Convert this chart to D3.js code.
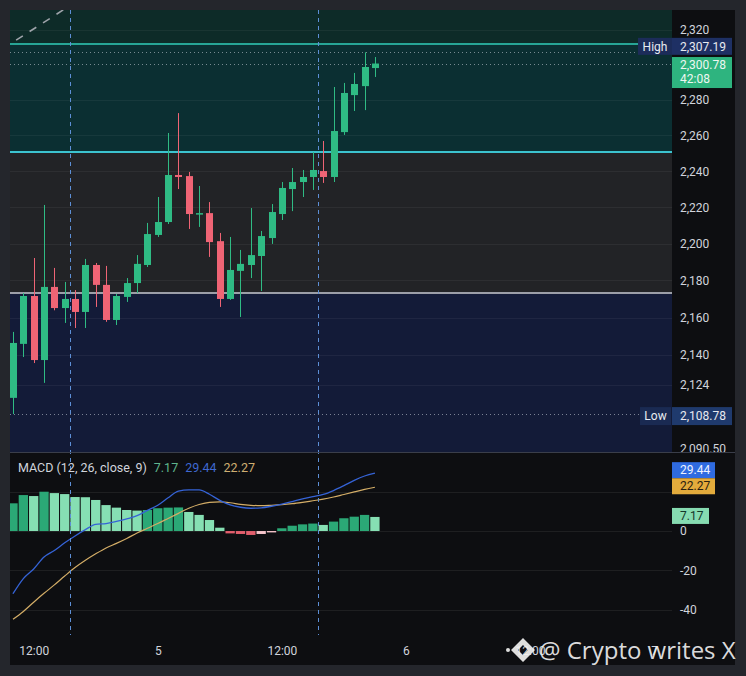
<!DOCTYPE html>
<html>
<meta charset="utf-8">

<!-- Load d3.js -->
<script src="https://d3js.org/d3.v7.min.js"></script>

<style>
    body { margin: 0; background: #24262c; }
    svg text { font-family: Roboto, "Noto Sans", sans-serif; }
</style>

<body>
    <div id="my_chart"></div>
    <script>

        // hourly candles, hour counted from the 4th 00:00
        var hours = [10, 11, 12, 13, 14, 15, 16, 17, 18, 19, 20, 21, 22, 23, 24, 25, 26, 27,
            28, 29, 30, 31, 32, 33, 34, 35, 36, 37, 38, 39, 40, 41, 42, 43, 44, 45];
        var opens = [2117.3, 2145.9, 2171.6, 2137.3, 2176.5, 2165.1, 2170.0, 2163.0, 2188.4, 2177.6, 2158.7, 2171.1,
            2178.6, 2188.4, 2204.8, 2211.9, 2237.9, 2237.3, 2216.3, 2216.8, 2201.4, 2170.0, 2185.2, 2188.4,
            2193.3, 2203.1, 2216.3, 2230.1, 2234.0, 2236.8, 2240.1, 2236.8, 2261.9, 2282.8, 2287.9, 2298.2];
        var highs = [2152.3, 2173.2, 2192.2, 2221.3, 2186.8, 2179.2, 2174.8, 2191.7, 2189.5, 2187.9, 2172.7, 2181.3,
            2193.8, 2211.4, 2225.7, 2261.4, 2272.6, 2239.6, 2231.8, 2222.9, 2205.9, 2203.7, 2196.6, 2219.6,
            2207.0, 2221.8, 2234.0, 2241.8, 2240.7, 2250.7, 2256.9, 2287.4, 2289.7, 2295.4, 2307.19, 2304.5];
        var lows = [2108.78, 2138.9, 2135.7, 2125.2, 2163.9, 2157.1, 2154.4, 2154.4, 2165.7, 2157.7, 2156.0, 2168.4,
            2173.2, 2187.3, 2203.7, 2210.8, 2230.1, 2208.1, 2209.2, 2192.8, 2165.7, 2169.5, 2160.3, 2181.3,
            2174.3, 2199.9, 2213.0, 2217.9, 2225.7, 2229.6, 2233.5, 2234.0, 2260.3, 2273.8, 2274.3, 2293.1];
        var closes = [2146.4, 2171.6, 2137.3, 2176.5, 2165.1, 2170.0, 2163.0, 2188.4, 2177.6, 2158.7, 2171.6, 2178.6,
            2189.0, 2205.3, 2211.9, 2237.9, 2236.8, 2216.3, 2216.8, 2200.9, 2170.0, 2185.7, 2189.0, 2193.8,
            2204.2, 2217.4, 2230.7, 2234.0, 2236.8, 2240.7, 2236.8, 2262.5, 2284.0, 2289.1, 2298.8, 2300.78];

        // MACD (12, 26, close, 9)
        var macdLine = [-31.9, -24.2, -19.3, -13.2, -9.9, -6.0, -2.5, 0.7, 3.4, 3.8, 4.9, 6.2,
            7.8, 10.5, 13.1, 16.9, 20.3, 20.9, 20.9, 18.7, 15.6, 13.3, 12.1, 11.6,
            11.8, 12.6, 13.7, 15.0, 16.3, 17.5, 18.6, 20.6, 23.1, 25.8, 28.0, 29.44];
        var signalLine = [-44.9, -40.9, -36.2, -31.7, -27.4, -22.9, -18.6, -14.9, -11.6, -8.6, -6.3, -3.8,
            -1.0, 1.4, 3.8, 6.4, 9.0, 11.6, 13.5, 14.6, 14.8, 14.4, 13.6, 13.1,
            12.9, 13.1, 13.4, 13.9, 14.6, 15.4, 16.2, 17.3, 18.6, 19.9, 21.2, 22.27];
        var histogram = [14.1, 18.3, 17.8, 20.0, 19.3, 18.8, 17.3, 17.2, 15.8, 13.2, 11.9, 10.7,
            10.4, 10.7, 11.6, 11.9, 12.0, 9.7, 8.2, 5.6, 1.7, -1.2, -1.5, -2.0,
            -1.5, -0.7, 1.4, 2.7, 3.4, 3.8, 3.1, 4.8, 6.5, 7.3, 8.2, 7.17];

        // levels drawn on the chart
        var zoneLevels = [2312.0, 2250.7, 2173.2];
        var dayHigh = 2307.19, dayLow = 2108.78, lastPrice = 2300.78;
        var countdown = "42:08";
        var sessionBreaks = [15.5, 39.5];
        var trendLine = [{ h: 9.0, p: 2309.2 }, { h: 16.5, p: 2338.0 }];

        // axis ticks
        var priceTicks = [2320, 2280, 2260, 2240, 2220, 2200, 2180, 2160, 2140, 2124, 2090.5];
        var priceTickLabels = ["2,320", "2,280", "2,260", "2,240", "2,220", "2,200", "2,180", "2,160", "2,140", "2,124", "2,090.50"];
        var macdTicks = [0, -20, -40];
        var macdGrid = [20, 0, -20, -40];
        var timeTicks = [12, 24, 36, 48, 60, 72];
        var timeLabels = ["12:00", "5", "12:00", "6", "12:00", "7"];

        // layout
        var left = 10, plotRight = 672, axisRight = 735,
            priceTop = 10, priceBottom = 452, macdTop = 453, macdBottom = 635, bottom = 665;

        var green = "#2fbb84", red = "#ef6475";

        var svg = d3.select("#my_chart")
            .append("svg")
            .attr("width", 746)
            .attr("height", 676);

        var defs = svg.append("defs");
        defs.append("clipPath").attr("id", "clipPrice").append("rect")
            .attr("x", left).attr("y", priceTop).attr("width", plotRight - left).attr("height", priceBottom - priceTop);
        defs.append("clipPath").attr("id", "clipMacd").append("rect")
            .attr("x", left).attr("y", macdTop).attr("width", plotRight - left).attr("height", macdBottom - macdTop);
        defs.append("clipPath").attr("id", "clipAxis").append("rect")
            .attr("x", plotRight).attr("y", priceTop).attr("width", axisRight - plotRight).attr("height", priceBottom - priceTop);

        // background + frame
        svg.append("rect").attr("width", 746).attr("height", 676).attr("fill", "#24262c");
        svg.append("rect")
            .attr("x", left).attr("y", priceTop)
            .attr("width", axisRight - left).attr("height", bottom - priceTop)
            .attr("fill", "#0d0e11");

        // scales
        var x = d3.scaleLinear().domain([9.71, 73.73]).range([left, plotRight]);
        var y = d3.scaleLog().domain([2089.0, 2331.6]).range([priceBottom, priceTop]);
        var yM = d3.scaleLinear().domain([-52.9, 39.7]).range([macdBottom, macdTop]);

        var pricePane = svg.append("g").attr("clip-path", "url(#clipPrice)");
        var macdPane = svg.append("g").attr("clip-path", "url(#clipMacd)");

        // coloured zones
        var edges = [y.domain()[1]].concat(zoneLevels).concat([y.domain()[0]]);
        var zoneFill = ["#0d2b28", "#0b2f32", "#222326", "#131b38"];
        pricePane.selectAll(".zone")
            .data(d3.range(edges.length - 1))
            .enter()
            .append("rect")
            .attr("x", left)
            .attr("width", plotRight - left)
            .attr("y", function (i) { return y(edges[i]) })
            .attr("height", function (i) { return y(edges[i + 1]) - y(edges[i]) })
            .attr("fill", function (i) { return zoneFill[i] });

        // grid
        pricePane.selectAll(".grid")
            .data(priceTicks.slice(0, -1))
            .enter()
            .append("line")
            .attr("x1", left).attr("x2", plotRight)
            .attr("y1", function (d) { return Math.round(y(d)) + 0.5 })
            .attr("y2", function (d) { return Math.round(y(d)) + 0.5 })
            .attr("stroke", "rgba(255,255,255,0.05)");
        macdPane.selectAll(".grid")
            .data(macdGrid)
            .enter()
            .append("line")
            .attr("x1", left).attr("x2", plotRight)
            .attr("y1", function (d) { return Math.round(yM(d)) + 0.5 })
            .attr("y2", function (d) { return Math.round(yM(d)) + 0.5 })
            .attr("stroke", "rgba(255,255,255,0.07)");

        // zone lines
        pricePane.append("line")
            .attr("x1", left).attr("x2", 638)
            .attr("y1", y(zoneLevels[0])).attr("y2", y(zoneLevels[0]))
            .attr("stroke", "#27a596").attr("stroke-width", 2);
        pricePane.append("line")
            .attr("x1", left).attr("x2", plotRight)
            .attr("y1", y(zoneLevels[1])).attr("y2", y(zoneLevels[1]))
            .attr("stroke", "#3cc3cf").attr("stroke-width", 2);
        pricePane.append("line")
            .attr("x1", left).attr("x2", plotRight)
            .attr("y1", y(zoneLevels[2])).attr("y2", y(zoneLevels[2]))
            .attr("stroke", "#9c9fa8").attr("stroke-width", 2);

        // high / low / last price dotted lines
        [[dayHigh, 638], [lastPrice, plotRight], [dayLow, 640]].forEach(function (l) {
            pricePane.append("line")
                .attr("x1", left).attr("x2", l[1])
                .attr("y1", Math.round(y(l[0])) + 0.5).attr("y2", Math.round(y(l[0])) + 0.5)
                .attr("stroke", "rgba(210,215,225,0.55)")
                .attr("stroke-dasharray", "1,3");
        });

        // dashed trend line top left
        pricePane.append("line")
            .attr("x1", x(trendLine[0].h)).attr("y1", y(trendLine[0].p))
            .attr("x2", x(trendLine[1].h)).attr("y2", y(trendLine[1].p))
            .attr("stroke", "#9ea3aa").attr("stroke-width", 1.6)
            .attr("stroke-dasharray", "8,8");

        // candles
        var candles = hours.map(function (h, i) {
            return { h: h, o: opens[i], hi: highs[i], lo: lows[i], c: closes[i] };
        });
        var bodyW = 7;
        pricePane.selectAll(".wick")
            .data(candles)
            .enter()
            .append("line")
            .attr("x1", function (d) { return Math.round(x(d.h)) + 0.5 })
            .attr("x2", function (d) { return Math.round(x(d.h)) + 0.5 })
            .attr("y1", function (d) { return y(d.hi) })
            .attr("y2", function (d) { return y(d.lo) })
            .attr("stroke", function (d) { return d.c >= d.o ? green : red });
        pricePane.selectAll(".body")
            .data(candles)
            .enter()
            .append("rect")
            .attr("x", function (d) { return Math.round(x(d.h)) + 0.5 - bodyW / 2 })
            .attr("width", bodyW)
            .attr("y", function (d) { return y(Math.max(d.o, d.c)) })
            .attr("height", function (d) { return Math.max(1.5, Math.abs(y(d.o) - y(d.c))) })
            .attr("fill", function (d) { return d.c >= d.o ? green : red });

        // MACD histogram
        var barW = (x(1) - x(0)) * 0.9;
        macdPane.selectAll(".bar")
            .data(histogram)
            .enter()
            .append("rect")
            .attr("x", function (d, i) { return x(hours[i]) - barW / 2 })
            .attr("width", barW)
            .attr("y", function (d) { return yM(Math.max(0, d)) })
            .attr("height", function (d) { return Math.abs(yM(d) - yM(0)) })
            .attr("fill", function (d, i) {
                var prev = i > 0 ? histogram[i - 1] : -Infinity;
                if (d >= 0) return d > prev ? "#2ba876" : "#86dfb3";
                return d < prev ? "#e25f6d" : "#f6c5cc";
            });

        // MACD + signal lines
        var lineGen = function (vals) {
            return d3.line()
                .x(function (d, i) { return x(hours[i]) })
                .y(function (d) { return yM(d) })
                .curve(d3.curveMonotoneX)(vals);
        };
        macdPane.append("path").attr("d", lineGen(signalLine))
            .attr("fill", "none").attr("stroke", "#d3ad67").attr("stroke-width", 1.2);
        macdPane.append("path").attr("d", lineGen(macdLine))
            .attr("fill", "none").attr("stroke", "#3563d6").attr("stroke-width", 1.3);

        // session break lines
        svg.selectAll(".session")
            .data(sessionBreaks)
            .enter()
            .append("line")
            .attr("x1", function (d) { return Math.round(x(d)) + 0.5 })
            .attr("x2", function (d) { return Math.round(x(d)) + 0.5 })
            .attr("y1", priceTop).attr("y2", macdBottom)
            .attr("stroke", "#5d8fd6").attr("stroke-dasharray", "4,4");

        // pane separator
        svg.append("line")
            .attr("x1", left).attr("x2", axisRight)
            .attr("y1", priceBottom + 0.5).attr("y2", priceBottom + 0.5)
            .attr("stroke", "#3a3e4a");

        // price axis
        var priceAxis = svg.append("g")
            .attr("clip-path", "url(#clipAxis)")
            .append("g")
            .attr("transform", "translate(" + plotRight + ",0)")
            .call(d3.axisRight(y)
                .tickValues(priceTicks)
                .tickFormat(function (d, i) { return priceTickLabels[i] })
                .tickSize(0)
                .tickPadding(8));
        priceAxis.select(".domain").remove();
        priceAxis.selectAll("text").attr("fill", "#d1d4dc").style("font-size", "12px");

        // macd axis
        var macdAxis = svg.append("g")
            .attr("transform", "translate(" + plotRight + ",0)")
            .call(d3.axisRight(yM)
                .tickValues(macdTicks)
                .tickFormat(function (d) { return String(d) })
                .tickSize(0)
                .tickPadding(8));
        macdAxis.select(".domain").remove();
        macdAxis.selectAll("text").attr("fill", "#d1d4dc").style("font-size", "12px");

        // time axis
        var timeAxis = svg.append("g")
            .attr("transform", "translate(0," + macdBottom + ")")
            .call(d3.axisBottom(x)
                .tickValues(timeTicks)
                .tickFormat(function (d, i) { return timeLabels[i] })
                .tickSize(0)
                .tickPadding(11));
        timeAxis.select(".domain").remove();
        timeAxis.selectAll("text").attr("fill", "#d1d4dc").style("font-size", "12px");

        // price labels
        function tag(xl, w, yc, h, bg, txt, color, anchor) {
            svg.append("rect").attr("x", xl).attr("y", yc - h / 2).attr("width", w).attr("height", h).attr("fill", bg);
            svg.append("text")
                .attr("x", anchor == "middle" ? xl + w / 2 : xl + 8)
                .attr("y", yc).attr("dy", "0.35em")
                .attr("text-anchor", anchor || "start")
                .attr("fill", color).style("font-size", "12px")
                .text(txt);
        }
        var yh = y(dayHigh) - 6;
        tag(638, 34, yh, 17, "#1c2c59", "High", "#e8eaf0", "middle");
        tag(plotRight, 60, yh, 17, "#1e3064", "2,307.19", "#e8eaf0");

        var yl = y(lastPrice);
        svg.append("rect").attr("x", plotRight).attr("y", yl - 6.5).attr("width", 60).attr("height", 31).attr("fill", "#2eb47f");
        svg.append("text").attr("x", plotRight + 8).attr("y", yl + 1).attr("dy", "0.35em")
            .attr("fill", "#eef7f2").style("font-size", "12px").text("2,300.78");
        svg.append("text").attr("x", plotRight + 8).attr("y", yl + 15).attr("dy", "0.35em")
            .attr("fill", "#eef7f2").style("font-size", "12px").text(countdown);

        var ylo = y(dayLow) + 2;
        tag(640, 31, ylo, 18, "#1a2a52", "Low", "#e8eaf0", "middle");
        tag(plotRight, 60, ylo, 18, "#1f3a6d", "2,108.78", "#e8eaf0");

        var last = histogram.length - 1;
        tag(plotRight, 43, yM(macdLine[last]) - 3, 16, "#2f6be0", "29.44", "#eef2ff");
        tag(plotRight, 43, yM(signalLine[last]) - 1, 16, "#e3ab3c", "22.27", "#2a2110");
        tag(plotRight, 37, yM(histogram[last]) - 1, 16, "#86dbb1", "7.17", "#14362a");

        // MACD legend
        var legend = svg.append("text").attr("x", 18).attr("y", 468).attr("dy", "0.35em").style("font-size", "12.5px");
        legend.append("tspan").attr("fill", "#d1d4dc").text("MACD (12, 26, close, 9)");
        legend.append("tspan").attr("fill", "#5fb58e").attr("dx", 7).text(histogram[last].toFixed(2));
        legend.append("tspan").attr("fill", "#3f68d0").attr("dx", 7).text(macdLine[last].toFixed(2));
        legend.append("tspan").attr("fill", "#cfae72").attr("dx", 7).text(signalLine[last].toFixed(2));

        // watermark
        var wm = svg.append("g").attr("fill", "rgba(240,240,240,0.92)");
        var cx = 523, cy = 650;
        wm.append("path")
            .attr("d", "M" + cx + "," + (cy - 12) + " L" + (cx + 12) + "," + cy + " L" + cx + "," + (cy + 12) + " L" + (cx - 12) + "," + cy + " Z"
                + " M" + cx + "," + (cy - 5) + " L" + (cx + 5) + "," + cy + " L" + cx + "," + (cy + 5) + " L" + (cx - 5) + "," + cy + " Z")
            .attr("fill-rule", "evenodd");
        wm.append("circle").attr("cx", cx - 15).attr("cy", cy).attr("r", 2);
        wm.append("text")
            .attr("x", 539).attr("y", 659)
            .style("font-family", "'Open Sans', sans-serif")
            .style("font-size", "24px")
            .text("@ Crypto writes X");

    </script>
</body>

</html>
